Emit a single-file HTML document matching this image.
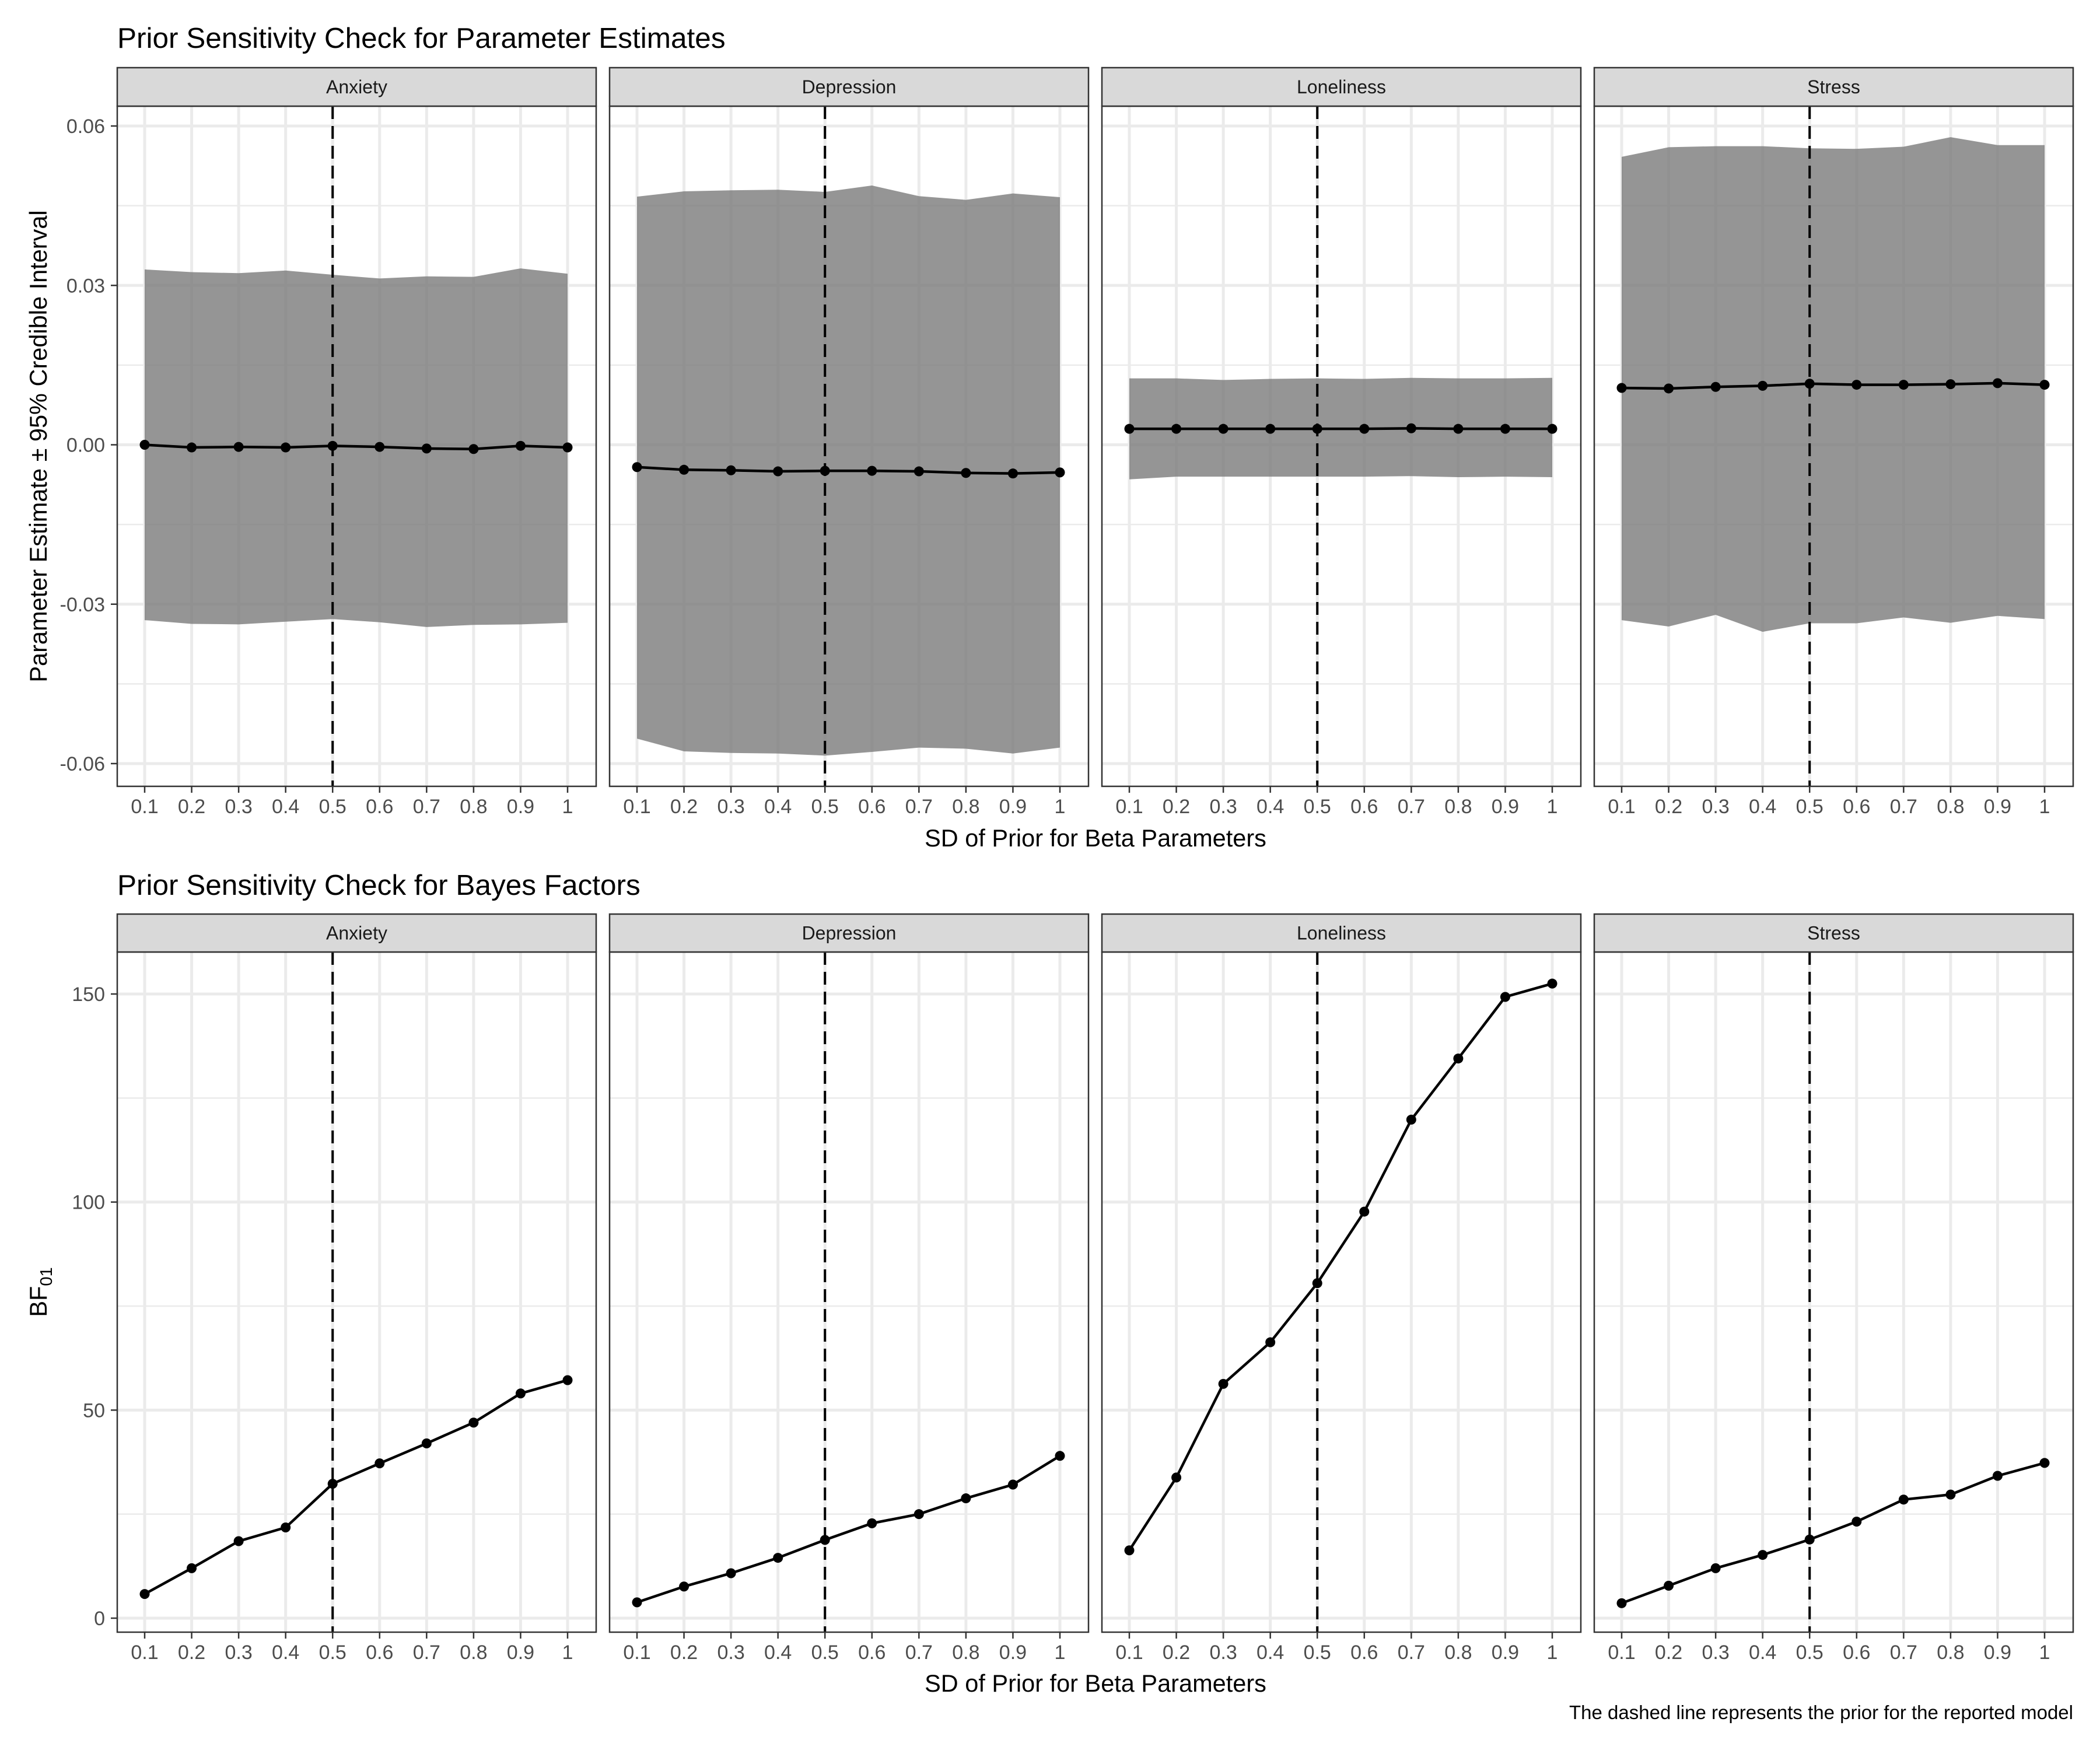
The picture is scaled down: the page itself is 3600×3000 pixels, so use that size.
<!DOCTYPE html>
<html><head><meta charset="utf-8"><style>
html,body{margin:0;padding:0;background:#fff}
svg{display:block;font-family:"Liberation Sans",Arial,sans-serif}
</style></head><body>
<svg id="chart" width="3600" height="3000" viewBox="0 0 3600 3000" xmlns="http://www.w3.org/2000/svg">
<rect width="3600" height="3000" fill="#fff"/>
<text x="201" y="82" font-size="49.5" fill="#000">Prior Sensitivity Check for Parameter Estimates</text>
<text x="201" y="1534" font-size="49.5" fill="#000">Prior Sensitivity Check for Bayes Factors</text>
<text transform="translate(80,765) rotate(-90)" text-anchor="middle" font-size="41.5" fill="#000">Parameter Estimate ± 95% Credible Interval</text>
<text transform="translate(80,2215) rotate(-90)" text-anchor="middle" font-size="41.5" fill="#000">BF<tspan font-size="29" dy="9">01</tspan></text>
<text x="1878" y="1451" text-anchor="middle" font-size="41.5" fill="#000">SD of Prior for Beta Parameters</text>
<text x="1878" y="2900" text-anchor="middle" font-size="41.5" fill="#000">SD of Prior for Beta Parameters</text>
<text x="3554" y="2947" text-anchor="end" font-size="33" fill="#000">The dashed line represents the prior for the reported model</text>
<g id="plots"></g>
</svg>
<script>
const panels = ["Anxiety","Depression","Loneliness","Stress"];
const xCats = ["0.1","0.2","0.3","0.4","0.5","0.6","0.7","0.8","0.9","1"];
const estAnxiety = [0.0000,-0.0005,-0.0004,-0.0005,-0.0002,-0.0004,-0.0007,-0.0008,-0.0002,-0.0005];
const upAnxiety = [0.0330,0.0325,0.0323,0.0328,0.0320,0.0313,0.0317,0.0316,0.0332,0.0322];
const loAnxiety = [-0.0330,-0.0337,-0.0338,-0.0333,-0.0328,-0.0334,-0.0343,-0.0339,-0.0338,-0.0335];
const estDepression = [-0.0042,-0.0047,-0.0048,-0.0050,-0.0049,-0.0049,-0.0050,-0.0053,-0.0054,-0.0052];
const upDepression = [0.0467,0.0477,0.0479,0.0480,0.0476,0.0488,0.0468,0.0461,0.0473,0.0466];
const loDepression = [-0.0553,-0.0577,-0.0580,-0.0581,-0.0585,-0.0578,-0.0570,-0.0572,-0.0581,-0.0570];
const estLoneliness = [0.0030,0.0030,0.0030,0.0030,0.0030,0.0030,0.0031,0.0030,0.0030,0.0030];
const upLoneliness = [0.0125,0.0125,0.0122,0.0124,0.0125,0.0124,0.0126,0.0125,0.0125,0.0126];
const loLoneliness = [-0.0065,-0.0060,-0.0060,-0.0060,-0.0060,-0.0060,-0.0059,-0.0061,-0.0060,-0.0061];
const estStress = [0.0107,0.0106,0.0109,0.0111,0.0115,0.0113,0.0113,0.0114,0.0116,0.0113];
const upStress = [0.0542,0.0560,0.0562,0.0562,0.0558,0.0557,0.0561,0.0579,0.0564,0.0564];
const loStress = [-0.0330,-0.0342,-0.0320,-0.0352,-0.0336,-0.0336,-0.0325,-0.0335,-0.0322,-0.0328];
const bfAnxiety = [5.8,12,18.5,21.8,32.3,37.2,42,47,54,57.2];
const bfDepression = [3.8,7.6,10.8,14.5,18.8,22.8,25,28.8,32.1,39];
const bfLoneliness = [16.3,33.8,56.3,66.3,80.5,97.7,119.8,134.5,149.3,152.5];
const bfStress = [3.6,7.8,12,15.2,18.9,23.2,28.5,29.7,34.2,37.3];
const topTicks = [0.06,0.03,0.00,-0.03,-0.06];
const topTickLabels = ["0.06","0.03","0.00","-0.03","-0.06"];
const topMinor = [0.045,0.015,-0.015,-0.045];
const botTicks = [0,50,100,150];
const botTickLabels = ["0","50","100","150"];
const botMinor = [25,75,125];
const priorLine = "0.5";

const topData = {Anxiety:[estAnxiety,upAnxiety,loAnxiety],Depression:[estDepression,upDepression,loDepression],Loneliness:[estLoneliness,upLoneliness,loLoneliness],Stress:[estStress,upStress,loStress]};
const botData = {Anxiety:bfAnxiety,Depression:bfDepression,Loneliness:bfLoneliness,Stress:bfStress};

const NS="http://www.w3.org/2000/svg";
const root=document.getElementById('plots');
function mk(tag,attrs,parent){const e=document.createElementNS(NS,tag);for(const k in attrs)e.setAttribute(k,attrs[k]);(parent||root).appendChild(e);return e;}
const panelLeft=[201,1045,1889,2733], PW=821;
function xScale(i,p){return panelLeft[p]+47+i*(725/9);}
const yTop=v=>762.5-v*(1093/0.12);
const yBot=v=>2774-v*(1070/150);

function drawRow(rowTop,stripTop,rowBottom,yS,ticks,labels,minor,isTop){
  panels.forEach((name,p)=>{
    const L=panelLeft[p],R=L+PW;
    const g=mk('g',{});
    
    
    mk('rect',{x:L,y:rowTop,width:PW,height:rowBottom-rowTop,fill:'#fff'},g);
    minor.forEach(v=>{mk('line',{x1:L,x2:R,y1:yS(v),y2:yS(v),stroke:'#ebebeb','stroke-width':2.5},g);});
    ticks.forEach(v=>{mk('line',{x1:L,x2:R,y1:yS(v),y2:yS(v),stroke:'#ebebeb','stroke-width':5},g);});
    xCats.forEach((c,i)=>{mk('line',{x1:xScale(i,p),x2:xScale(i,p),y1:rowTop,y2:rowBottom,stroke:'#ebebeb','stroke-width':5},g);});
    if(isTop){
      const [est,up,lo]=topData[name];
      let d='';
      up.forEach((v,i)=>{d+=(i?'L':'M')+xScale(i,p)+','+yS(v);});
      for(let i=lo.length-1;i>=0;i--)d+='L'+xScale(i,p)+','+yS(lo[i]);
      const rib=mk('path',{d:d+'Z',fill:'#7a7a7a','fill-opacity':0.8},g);
      
      
    }
    const vals=isTop?topData[name][0]:botData[name];
    const vi=xCats.indexOf(priorLine);
    const dl=mk('line',{x1:xScale(vi,p),x2:xScale(vi,p),y1:rowTop,y2:rowBottom,stroke:'#000','stroke-width':4,'stroke-dasharray':'22 12'},g);
    
    
    const pts=vals.map((v,i)=>xScale(i,p)+','+yS(v)).join(' ');
    const ln=mk('polyline',{points:pts,fill:'none',stroke:'#000','stroke-width':4.5},g);
    
    
    vals.forEach((v,i)=>{const c=mk('circle',{cx:xScale(i,p),cy:yS(v),r:8.5,fill:'#000'},g);
      
      });
    mk('rect',{x:L,y:rowTop,width:PW,height:rowBottom-rowTop,fill:'none',stroke:'#333','stroke-width':2.5},g);
    const st=mk('rect',{x:L,y:stripTop,width:PW,height:rowTop-stripTop,fill:'#d9d9d9',stroke:'#333','stroke-width':2.5},g);
    
    
    const tx=mk('text',{x:L+PW/2,y:(stripTop+rowTop)/2+11,'text-anchor':'middle','font-size':32,fill:'#1a1a1a'},g);
    tx.textContent=name;
    
    
    xCats.forEach((c,i)=>{
      mk('line',{x1:xScale(i,p),x2:xScale(i,p),y1:rowBottom,y2:rowBottom+11,stroke:'#333','stroke-width':2.5},g);
      const t=mk('text',{x:xScale(i,p),y:rowBottom+46,'text-anchor':'middle','font-size':34,fill:'#4d4d4d'},g);
      t.textContent=c;
      
      
    });
    if(p===0){
      ticks.forEach((v,k)=>{
        mk('line',{x1:190,x2:201,y1:yS(v),y2:yS(v),stroke:'#333','stroke-width':2.5},g);
        const t=mk('text',{x:180,y:yS(v)+12,'text-anchor':'end','font-size':34,fill:'#4d4d4d'},g);
        t.textContent=labels[k];
        
        
      });
    }
  });
}
drawRow(182,116,1348,yTop,topTicks,topTickLabels,topMinor,true);
drawRow(1632,1567,2798,yBot,botTicks,botTickLabels,botMinor,false);
</script>
</body></html>
